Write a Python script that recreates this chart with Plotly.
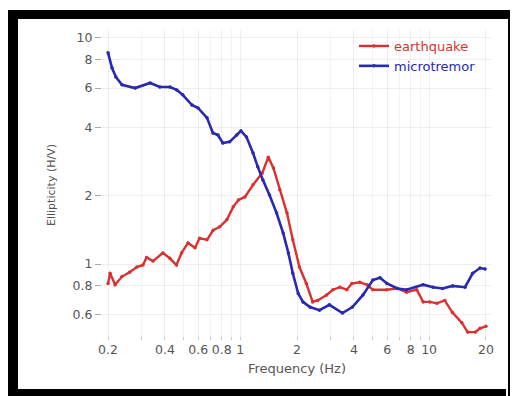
import plotly.graph_objects as go

# H/V ellipticity curves
eq_freq = [0.2, 0.205, 0.218, 0.237, 0.26, 0.284, 0.306, 0.32, 0.346, 0.39, 0.425, 0.46,
           0.49, 0.53, 0.577, 0.61, 0.668, 0.72, 0.78, 0.85, 0.92, 0.98, 1.06, 1.17, 1.31,
           1.41, 1.5, 1.62, 1.77, 1.9, 2.06, 2.24, 2.42, 2.57, 2.87, 3.1, 3.37, 3.67, 3.9,
           4.3, 4.7, 5.04, 5.98, 6.8, 7.6, 8.6, 9.3, 10.1, 11.0, 12.1, 13.3, 14.9, 16.0,
           17.6, 18.6, 20.0]
eq_hv = [0.82, 0.91, 0.81, 0.88, 0.92, 0.97, 0.99, 1.07, 1.03, 1.12, 1.06, 0.99,
         1.12, 1.24, 1.18, 1.30, 1.28, 1.41, 1.46, 1.57, 1.79, 1.92, 1.98, 2.24, 2.53,
         2.97, 2.66, 2.13, 1.68, 1.28, 0.97, 0.82, 0.68, 0.69, 0.73, 0.77, 0.79, 0.77, 0.82,
         0.83, 0.81, 0.77, 0.77, 0.78, 0.75, 0.77, 0.68, 0.68, 0.67, 0.69, 0.61, 0.55, 0.50,
         0.50, 0.52, 0.53]

mt_freq = [0.2, 0.21, 0.22, 0.237, 0.278, 0.334, 0.376, 0.425, 0.462, 0.497, 0.556, 0.599,
           0.668, 0.718, 0.763, 0.81, 0.88, 0.96, 1.01, 1.08, 1.17, 1.24, 1.32, 1.43, 1.56,
           1.69, 1.8, 1.9, 2.03, 2.15, 2.34, 2.63, 2.97, 3.48, 3.93, 4.47, 5.04, 5.5, 5.98,
           6.8, 7.6, 9.3, 10.5, 11.8, 13.3, 15.5, 17.0, 18.6, 19.8]
mt_hv = [8.59, 7.36, 6.72, 6.2, 6.0, 6.32, 6.07, 6.07, 5.89, 5.6, 5.05, 4.9,
         4.43, 3.8, 3.72, 3.43, 3.47, 3.72, 3.88, 3.65, 3.1, 2.69, 2.35, 2.02, 1.68,
         1.37, 1.12, 0.91, 0.74, 0.68, 0.645, 0.625, 0.66, 0.607, 0.645, 0.73, 0.85, 0.87, 0.82,
         0.78, 0.77, 0.81, 0.79, 0.78, 0.80, 0.79, 0.91, 0.96, 0.95]

x_tickvals = [0.2, 0.4, 0.6, 0.8, 1, 2, 4, 6, 8, 10, 20]
x_ticktext = ["0.2", "0.4", "0.6", "0.8", "1", "2", "4", "6", "8", "10", "20"]
y_tickvals = [0.6, 0.8, 1, 2, 4, 6, 8, 10]
y_ticktext = ["0.6", "0.8", "1", "2", "4", "6", "8", "10"]
x_minor = [0.2, 0.3, 0.4, 0.5, 0.6, 0.7, 0.8, 0.9, 1, 2, 3, 4, 5, 6, 7, 8, 9, 10, 20]

RED = "#dc3030"
BLUE = "#2828b0"
FONT = "DejaVu Sans"
W, H = 512, 396
ML, MR, MT, MB = 102, 20, 30, 56

fig = go.Figure()
fig.add_trace(go.Scatter(
    x=eq_freq, y=eq_hv, mode="lines+markers",
    name=f"<span style='color:{RED}'>earthquake</span>",
    line=dict(color=RED, width=2.4), marker=dict(color=RED, size=3.5)))
fig.add_trace(go.Scatter(
    x=mt_freq, y=mt_hv, mode="lines+markers",
    name=f"<span style='color:{BLUE}'>microtremor</span>",
    line=dict(color=BLUE, width=2.6), marker=dict(color=BLUE, size=3.5)))


def px(x):
    return (x - ML) / (W - ML - MR)


def py(y):
    return 1 - (y - MT) / (H - MT - MB)


# black photo frame around the figure
frame = [(8, 10, 18, 396), (8, 10, 510, 19), (8, 389, 506, 396), (508, 10, 510, 396)]
shapes = [dict(type="rect", xref="paper", yref="paper",
               x0=px(a), x1=px(c), y0=py(d), y1=py(b),
               fillcolor="black", line=dict(width=0), layer="above")
          for a, b, c, d in frame]

fig.update_layout(
    width=W, height=H,
    margin=dict(l=ML, r=MR, t=MT, b=MB),
    paper_bgcolor="white", plot_bgcolor="white",
    font=dict(family=FONT, color="#555555"),
    shapes=shapes,
    showlegend=True,
    legend=dict(x=px(354), y=py(31), xanchor="left", yanchor="top",
                bgcolor="rgba(0,0,0,0)", font=dict(size=13, family=FONT),
                tracegroupgap=0, itemwidth=30),
    xaxis=dict(type="log", range=[-0.731, 1.333],
               tickmode="array", tickvals=x_tickvals, ticktext=x_ticktext,
               ticks="", tickfont=dict(size=12.5, color="#555555"),
               showgrid=True, gridcolor="#eeeeee", zeroline=False, showline=False,
               minor=dict(tickmode="array", tickvals=x_minor, ticks="inside",
                          ticklen=3, tickcolor="#c8c8c8", showgrid=True,
                          gridcolor="#f2f2f2"),
               title=dict(text="Frequency (Hz)", font=dict(size=13, color="#555555"),
                          standoff=8)),
    yaxis=dict(type="log", range=[-0.336, 1.035],
               tickmode="array", tickvals=y_tickvals, ticktext=y_ticktext,
               ticks="outside", ticklen=6, tickcolor="#aaaaaa",
               tickfont=dict(size=12.5, color="#555555"),
               showgrid=True, gridcolor="#eeeeee", zeroline=False, showline=False,
               title=dict(text="Ellipticity (H/V)", font=dict(size=11, color="#555555"),
                          standoff=14)),
)

fig.write_html("out.html")
